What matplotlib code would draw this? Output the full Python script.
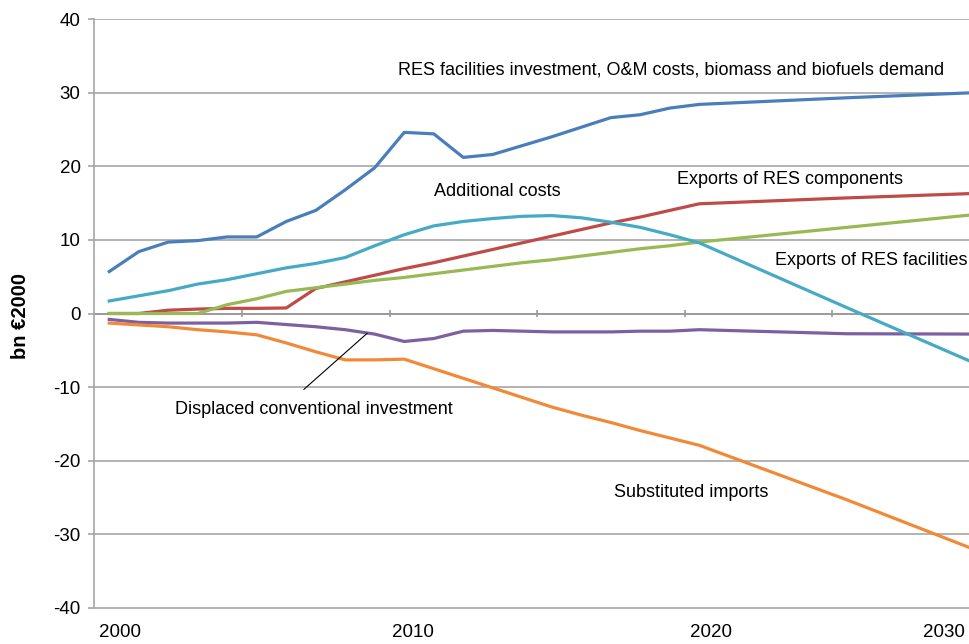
import matplotlib
matplotlib.use("Agg")
import matplotlib.pyplot as plt
import numpy as np

plt.rcParams['font.family'] = ['Liberation Sans', 'DejaVu Sans']

years = list(range(2000, 2021)) + [2025, 2030]

res_investment = [5.7, 8.4, 9.7, 9.9, 10.4, 10.4, 12.5, 14.0, 16.8, 19.8, 24.6,
                  24.4, 21.2, 21.6, 22.8, 24.0, 25.3, 26.6, 27.0, 27.9, 28.4,
                  29.3, 30.1]
exports_components = [0.0, 0.0, 0.45, 0.6, 0.7, 0.7, 0.75, 3.4, 4.3, 5.2, 6.1,
                      6.9, 7.8, 8.7, 9.6, 10.5, 11.4, 12.3, 13.1, 14.0, 14.9,
                      15.7, 16.4]
exports_facilities = [0.0, 0.0, 0.0, 0.0, 1.2, 2.0, 3.0, 3.5, 4.0, 4.5, 4.9,
                      5.4, 5.9, 6.4, 6.9, 7.3, 7.8, 8.3, 8.8, 9.2, 9.7,
                      11.7, 13.7]
displaced_investment = [-0.8, -1.2, -1.3, -1.3, -1.3, -1.2, -1.5, -1.8, -2.2, -2.8, -3.8,
                        -3.4, -2.4, -2.3, -2.4, -2.5, -2.5, -2.5, -2.4, -2.4, -2.2,
                        -2.75, -2.8]
additional_costs = [1.7, 2.4, 3.1, 4.0, 4.6, 5.4, 6.2, 6.8, 7.6, 9.2, 10.7,
                    11.9, 12.5, 12.9, 13.2, 13.3, 13.0, 12.4, 11.7, 10.7, 9.6,
                    0.8, -7.9]
substituted_imports = [-1.3, -1.55, -1.8, -2.2, -2.5, -2.9, -4.0, -5.2, -6.3, -6.3, -6.2,
                       -7.5, -8.8, -10.1, -11.4, -12.7, -13.8, -14.8, -15.9, -16.9, -17.9,
                       -25.3, -33.1]

tick_labels = ['2000', '2010', '2020', '2030']
tick_label_pos = [2000.35, 2010.3, 2020.4, 2028.3]

fig = plt.figure(figsize=(9.7, 6.44), dpi=100)
ax = fig.add_axes([94.5 / 970, 1 - 608 / 644, 1 - 94.5 / 970, (608 - 19) / 644])

grid_c = '#A6A6A6'
for yv in [-30, -20, -10, 10, 20, 30, 40]:
    ax.axhline(yv, color=grid_c, lw=1.2, zorder=1)
ax.axhline(0, color='#9A9A9A', lw=1.4, zorder=1)
cat_ticks = [2004.5, 2009.5, 2014.5, 2019.5, 2024.5]
ax.vlines(cat_ticks, -0.5, 0.5, color='#9A9A9A', lw=1.2, zorder=1)

lw = 2.3
ax.plot(years, res_investment, color='#4A7EBB', lw=lw, zorder=3)
ax.plot(years, exports_components, color='#BE4B48', lw=lw, zorder=3)
ax.plot(years, exports_facilities, color='#98B954', lw=lw, zorder=3)
ax.plot(years, displaced_investment, color='#7D60A0', lw=lw, zorder=3)
ax.plot(years, additional_costs, color='#46AAC5', lw=lw, zorder=4)
ax.plot(years, substituted_imports, color='#F08A38', lw=lw, zorder=3)

ax.set_xlim(1999.5, 1999.5 + (970 - 94.5) / 29.5)
ax.set_ylim(-40, 40)
ax.set_yticks(range(-40, 41, 10))
ax.set_yticklabels([str(v) for v in range(-40, 41, 10)])
ax.set_xticks(tick_label_pos)
ax.set_xticklabels(tick_labels)
ax.tick_params(axis='x', length=0, pad=11.5, labelsize=13.5, colors='black')
ax.tick_params(axis='y', length=4, width=1.2, color=grid_c, pad=6, labelsize=13.5)
for s in ['top', 'right']:
    ax.spines[s].set_visible(False)
for s in ['left', 'bottom']:
    ax.spines[s].set_color(grid_c)
    ax.spines[s].set_linewidth(1.2)

fs = 13
ax.text(2009.79, 33.1, 'RES facilities investment, O&M costs, biomass and biofuels demand',
        fontsize=fs, va='center', ha='left')
ax.text(2011.0, 16.55, 'Additional costs', fontsize=fs, va='center', ha='left')
ax.text(2019.25, 18.2, 'Exports of RES components', fontsize=fs, va='center', ha='left')
ax.text(2022.57, 7.2, 'Exports of RES facilities', fontsize=fs, va='center', ha='left')
ax.text(2002.23, -13.0, 'Displaced conventional investment', fontsize=fs, va='center', ha='left')
ax.text(2017.1, -24.3, 'Substituted imports', fontsize=fs, va='center', ha='left')
ax.plot([2006.6, 2008.74], [-10.3, -2.7], color='black', lw=0.8, zorder=5)

fig.text(21 / 970, 1 - 316 / 644, 'bn €2000', rotation=90, fontsize=14.5,
         fontweight='bold', ha='center', va='center')

fig.savefig('out.png', dpi=100)
